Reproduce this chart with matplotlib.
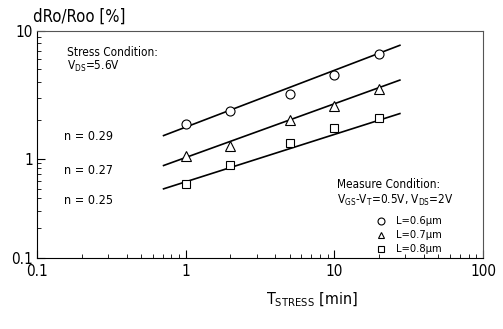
import numpy as np
import matplotlib
matplotlib.use('Agg')
import matplotlib.pyplot as plt
from matplotlib.ticker import LogLocator, FuncFormatter

plt.rcParams['font.family'] = ['DejaVu Sans']
plt.rcParams['font.stretch'] = 'condensed'
plt.rcParams['mathtext.fontset'] = 'custom'
plt.rcParams['mathtext.rm'] = 'DejaVu Sans:stretch=condensed'
plt.rcParams['mathtext.it'] = 'DejaVu Sans:stretch=condensed'

# data
t_stress = [1, 2, 5, 10, 20]
dr_06 = [1.88, 2.36, 3.19, 4.49, 6.57]
dr_07 = [1.06, 1.26, 2.01, 2.58, 3.49]
dr_08 = [0.56, 0.86, 1.32, 1.75, 2.10]

# fitted lines (end points)
fit_t = [0.71, 27.6]
fit_06 = [1.52, 7.73]
fit_07 = [0.856, 4.13]
fit_08 = [0.498, 2.26]

n_labels = ['n = 0.29', 'n = 0.27', 'n = 0.25']
legend_labels = ['L=0.6\u00b5m', 'L=0.7\u00b5m', 'L=0.8\u00b5m']

W, H = 503, 329
fig = plt.figure(figsize=(W / 100, H / 100), dpi=100)
ax = fig.add_axes([37 / W, 1 - 258 / H, 446 / W, 227 / H])

# the scanned y axis has a taller upper decade than lower decade
k = 99 / 127.6


def fwd(y):
    ly = np.log10(np.clip(y, 1e-10, None))
    return np.where(ly >= 0, ly, ly * k)


def inv(u):
    return 10 ** np.where(u >= 0, u, u / k)


ax.set_xscale('log')
ax.set_yscale('function', functions=(fwd, inv))
ax.set_xlim(0.1, 100)
ax.set_ylim(0.1, 10)

for t, y in [(fit_t, fit_06), (fit_t, fit_07), (fit_t, fit_08)]:
    ax.plot(t, y, color='black', lw=1.2)

ax.plot(t_stress, dr_06, 'o', mfc='white', mec='black', ms=6.5, mew=0.8)
ax.plot(t_stress, dr_07, '^', mfc='white', mec='black', ms=6.5, mew=0.8)
ax.plot(t_stress, dr_08, 's', mfc='white', mec='black', ms=5.5, mew=0.8)

fmt = FuncFormatter(lambda v, p: {0.1: '0.1', 1: '1', 10: '10', 100: '100'}.get(round(v, 3), ''))
ax.yaxis.set_major_locator(LogLocator(base=10))
ax.yaxis.set_minor_locator(LogLocator(base=10, subs=np.arange(2, 10)))
ax.yaxis.set_major_formatter(fmt)
ax.yaxis.set_minor_formatter(FuncFormatter(lambda v, p: ''))
ax.xaxis.set_major_formatter(fmt)

ax.tick_params(which='both', direction='in', top=False, right=False, labelsize=11)
ax.tick_params(which='major', length=6, width=0.8)
ax.tick_params(which='minor', length=3, width=0.6)
ax.tick_params(axis='x', pad=4)
ax.tick_params(axis='y', pad=3)
for s in ax.spines.values():
    s.set_linewidth(0.8)
ax.spines['top'].set_color('#555555')
ax.spines['right'].set_color('#555555')


def ftext(x, y, s, **kw):
    fig.text(x / W, 1 - y / H, s, va='center', **kw)


ftext(33, 17, 'dRo/Roo [%]', fontsize=12)
ftext(312, 300, r'T$_{\rm STRESS}$ [min]', fontsize=11.5, ha='center')
ftext(67, 52, 'Stress Condition:', fontsize=8.5)
ftext(67, 66, r'V$_{\rm DS}$=5.6V', fontsize=8.5)
for y, s in zip([136, 170, 201], n_labels):
    ftext(64, y, s, fontsize=9)
ftext(337, 184, 'Measure Condition:', fontsize=8.5)
ftext(337, 200, r'V$_{\rm GS}$-V$_{\rm T}$=0.5V, V$_{\rm DS}$=2V', fontsize=8.5)

leg_y = [221, 235, 249]
for yy, m, s in zip(leg_y, ['o', '^', 's'], legend_labels):
    fig.add_artist(plt.Line2D([381 / W], [1 - yy / H], marker=m, mfc='white', mec='black',
                              ms=5, mew=0.8, transform=fig.transFigure))
    ftext(396, yy, s, fontsize=8)

fig.savefig('out.png', dpi=100)
